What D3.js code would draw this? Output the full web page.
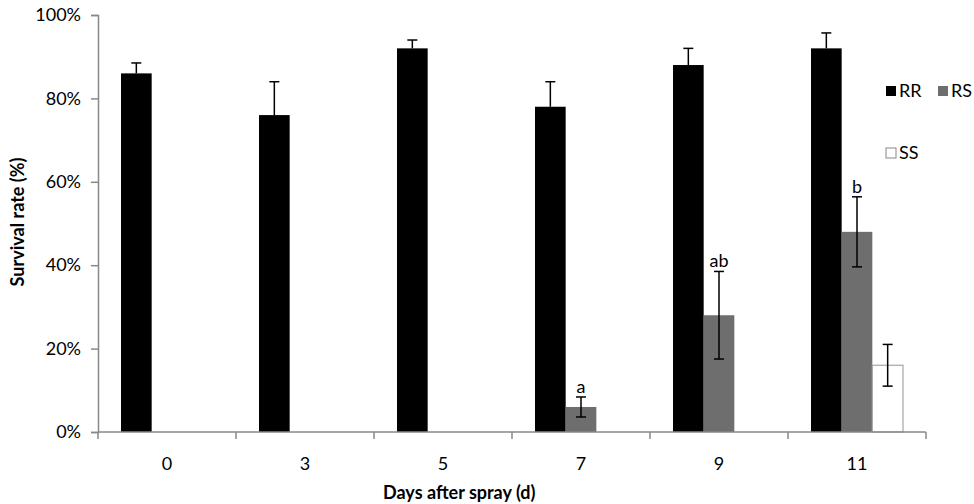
<!DOCTYPE html>
<html>
  <head>
    <meta charset="utf-8">
    <title>Survival rate</title>
    <script src="https://d3js.org/d3.v7.min.js"></script>
    <style>
    body{margin:0; background:white;}
    svg{display:block; background-color:white;}
    text{font-family:Lato, "Open Sans", sans-serif; fill:#000;}
    </style>
  </head>
  <body>
    <script>
    // data
    var days = ["0", "3", "5", "7", "9", "11"];
    var genotypes = ["RR", "RS", "SS"];
    var rrValues = [86, 76, 92, 78, 88, 92];
    var rsValues = [0, 0, 0, 6, 28, 48];
    var ssValues = [0, 0, 0, 0, 0, 16];
    var rrErrors = [2.5, 8, 2, 6, 4, 3.7];
    var rsErrors = [0, 0, 0, 2.4, 10.5, 8.4];
    var ssErrors = [0, 0, 0, 0, 0, 5];
    var rsLetters = ["", "", "", "a", "ab", "b"];
    var yTicks = [0, 20, 40, 60, 80, 100];

    var colors = {RR: "#000000", RS: "#6e6e6e", SS: "#ffffff"};
    var width = 974, height = 504;
    var plotLeft = 98, plotRight = 926, plotTop = 15, plotBottom = 432;

    var svg = d3.select("body").append("svg").attr("width", width).attr("height", height);

    var x = d3.scaleBand().domain(days).range([plotLeft, plotRight]);
    var inner = d3.scaleBand().domain(genotypes)
        .range([x.bandwidth() / 6, x.bandwidth() * 5 / 6]);
    var y = d3.scaleLinear().domain([0, 100]).range([plotBottom, plotTop]);

    // y axis
    var yAxis = d3.axisLeft(y).tickValues(yTicks).tickSize(7).tickPadding(10)
        .tickFormat(function(d){ return d + "%"; });
    var gy = svg.append("g").attr("transform", "translate(" + plotLeft + ",0)").call(yAxis);
    gy.selectAll("path, line").attr("stroke", "#888").attr("stroke-width", 1.5);
    gy.selectAll("text").style("font-size", "18px");

    // table of bars
    var rows = [];
    days.forEach(function(d, i){
      rows.push({day: d, g: "RR", v: rrValues[i], e: rrErrors[i], letter: ""});
      rows.push({day: d, g: "RS", v: rsValues[i], e: rsErrors[i], letter: rsLetters[i]});
      rows.push({day: d, g: "SS", v: ssValues[i], e: ssErrors[i], letter: ""});
    });
    var bars = rows.filter(function(r){ return r.v > 0; });

    svg.append("g").selectAll("rect")
        .data(bars)
        .enter()
        .append("rect")
        .attr("x", function(d){ return x(d.day) + inner(d.g); })
        .attr("width", inner.bandwidth())
        .attr("y", function(d){ return y(d.v); })
        .attr("height", function(d){ return y(0) - y(d.v); })
        .attr("fill", function(d){ return colors[d.g]; })
        .attr("stroke", function(d){ return d.g == "SS" ? "#a6a6a6" : "none"; })
        .attr("stroke-width", 1.2);

    // error bars (RR drawn upward only, as in the original)
    var eb = svg.append("g").attr("stroke", "#000").attr("stroke-width", 1.5);
    bars.forEach(function(d){
      var cx = x(d.day) + inner(d.g) + inner.bandwidth() / 2;
      var lo = d.g == "RR" ? d.v : d.v - d.e;
      var hi = d.v + d.e;
      eb.append("line").attr("x1", cx).attr("x2", cx).attr("y1", y(lo)).attr("y2", y(hi));
      eb.append("line").attr("x1", cx - 5).attr("x2", cx + 5).attr("y1", y(hi)).attr("y2", y(hi));
      if (d.g != "RR") {
        eb.append("line").attr("x1", cx - 5).attr("x2", cx + 5).attr("y1", y(lo)).attr("y2", y(lo));
      }
      if (d.letter) {
        svg.append("text").attr("x", cx).attr("y", y(hi) - 4)
          .attr("text-anchor", "middle").style("font-size", "18px").text(d.letter);
      }
    });

    // x axis
    var gx = svg.append("g").attr("transform", "translate(0," + plotBottom + ")");
    gx.append("line").attr("x1", plotLeft).attr("x2", plotRight).attr("stroke", "#888").attr("stroke-width", 1.5);
    var edges = days.map(function(d){ return x(d); }).concat([plotRight]);
    gx.selectAll("line.tick").data(edges).enter().append("line")
        .attr("class", "tick")
        .attr("x1", function(d){ return d; }).attr("x2", function(d){ return d; })
        .attr("y1", 0).attr("y2", 7).attr("stroke", "#888").attr("stroke-width", 1.5);
    gx.selectAll("text").data(days).enter().append("text")
        .attr("x", function(d){ return x(d) + x.bandwidth() / 2; })
        .attr("y", 38).attr("text-anchor", "middle").style("font-size", "18px")
        .text(function(d){ return d; });

    // axis titles
    svg.append("text").attr("x", 383).attr("y", 499).attr("text-anchor", "start")
        .style("font-size", "18px").style("font-weight", "bold").text("Days after spray (d)");
    svg.append("text").attr("transform", "translate(24," + 222 + ") rotate(-90)")
        .attr("text-anchor", "middle").style("font-size", "18px").style("font-weight", "bold")
        .text("Survival rate (%)");

    // legend
    var legend = [
      {g: "RR", x: 886, y: 91},
      {g: "RS", x: 938, y: 91},
      {g: "SS", x: 886, y: 153}
    ];
    var lg = svg.append("g").selectAll("g").data(legend).enter().append("g")
        .attr("transform", function(d){ return "translate(" + d.x + "," + d.y + ")"; });
    lg.append("rect").attr("x", 0).attr("y", -5).attr("width", 10).attr("height", 10)
        .attr("fill", function(d){ return colors[d.g]; })
        .attr("stroke", function(d){ return d.g == "SS" ? "#888" : "none"; });
    lg.append("text").attr("x", 13).attr("y", 6).style("font-size", "18px")
        .text(function(d){ return d.g; });
    </script>
  </body>
</html>
